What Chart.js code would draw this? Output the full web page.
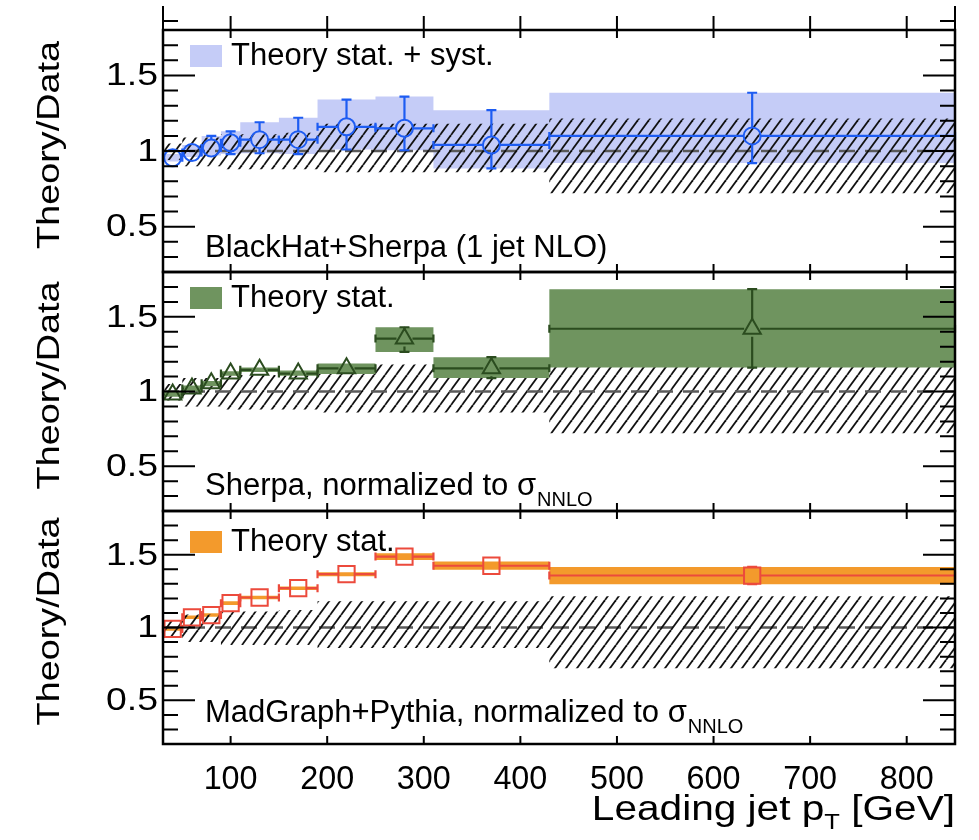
<!DOCTYPE html>
<html>
<head>
<meta charset="utf-8">
<script src="https://cdn.jsdelivr.net/npm/chart.js@4.4.1/dist/chart.umd.min.js"></script>
<style>
  body { margin: 0; background: #fff; }
  #wrap { position: relative; width: 979px; height: 840px; }
  #wrap canvas { position: absolute; left: 0; top: 0; }
</style>
</head>
<body>
<div id="wrap">
  <canvas id="p1" width="979" height="840"></canvas>
  <canvas id="p2" width="979" height="840"></canvas>
  <canvas id="p3" width="979" height="840"></canvas>
</div>
<script>
// leading jet pT bins [GeV]
const binEdges = [30, 50, 70, 90, 110, 150, 190, 250, 310, 430, 850];
const binCenters = [40, 60, 80, 100, 130, 170, 220, 280, 370, 640];
const xTickLabels = [100, 200, 300, 400, 500, 600, 700, 800];
const yTickLabels = [0.5, 1, 1.5];

// data uncertainty (hatched band)
const dataLow  = [0.94, 0.90, 0.90, 0.88, 0.88, 0.88, 0.86, 0.86, 0.86, 0.72];
const dataHigh = [1.05, 1.09, 1.09, 1.11, 1.11, 1.12, 1.18, 1.18, 1.18, 1.215];

// BlackHat+Sherpa
const bhsValue = [0.955, 0.99, 1.02, 1.055, 1.075, 1.075, 1.16, 1.15, 1.04, 1.10];
const bhsLow   = [0.93, 0.96, 0.97, 0.98, 0.985, 0.98, 1.01, 1.005, 0.885, 0.92];
const bhsHigh  = [0.98, 1.04, 1.10, 1.13, 1.19, 1.22, 1.34, 1.36, 1.27, 1.385];

// Sherpa
const sherpaValue = [0.98, 1.02, 1.055, 1.12, 1.145, 1.12, 1.155, 1.354, 1.155, 1.42];
const sherpaLow   = [0.965, 1.0, 1.035, 1.105, 1.13, 1.105, 1.117, 1.265, 1.09, 1.16];
const sherpaHigh  = [1.0, 1.04, 1.07, 1.135, 1.16, 1.14, 1.188, 1.43, 1.23, 1.685];

// MadGraph+Pythia
const mgValue = [0.99, 1.07, 1.085, 1.167, 1.206, 1.27, 1.366, 1.487, 1.424, 1.357];
const mgLow   = [0.978, 1.058, 1.073, 1.155, 1.194, 1.258, 1.352, 1.464, 1.396, 1.297];
const mgHigh  = [1.002, 1.082, 1.097, 1.18, 1.218, 1.282, 1.38, 1.51, 1.453, 1.416];

const FONT = '"Liberation Sans", Arial, sans-serif';
const NONE = 'rgba(0,0,0,0)';

const steps = (vals) => binEdges.map((x, i) => ({ x, y: vals[Math.min(i, vals.length - 1)] }));

function band(lo, hi, color, order) {
  return [
    { data: steps(lo), stepped: true, fill: false, borderColor: NONE, pointRadius: 0, order: order + 1 },
    { data: steps(hi), stepped: true, fill: '-1', backgroundColor: color, borderColor: NONE, pointRadius: 0, order },
  ];
}

function unityLine(order) {
  return {
    data: [{ x: binEdges[0], y: 1 }, { x: binEdges[binEdges.length - 1], y: 1 }],
    borderColor: '#5a5a5a', borderWidth: 2.5, borderDash: [16, 10], pointRadius: 0, fill: false, order,
  };
}

function hatch(ctx) {
  const w = 11, h = 15;
  const c = document.createElement('canvas');
  c.width = w; c.height = h;
  const g = c.getContext('2d');
  g.strokeStyle = '#111';
  g.lineWidth = 1.8;
  [-w, 0, w].forEach((off) => {
    g.beginPath();
    g.moveTo(off, h);
    g.lineTo(off + w, 0);
    g.stroke();
  });
  return ctx.createPattern(c, 'repeat');
}

function markers(values, lo, hi, style, radius, gap, color, order) {
  return {
    data: binCenters.map((x, i) => ({ x, y: values[i] })),
    showLine: false, fill: false,
    pointStyle: style, pointRadius: radius, pointHoverRadius: radius,
    pointBorderWidth: 2, pointBorderColor: color, pointBackgroundColor: NONE,
    errLow: lo, errHigh: hi, barColor: color, barGap: gap, order,
  };
}

const errorBars = {
  id: 'errorBars',
  beforeDatasetDraw(chart, args) {
    const ds = chart.data.datasets[args.index];
    if (!ds.errLow) return;
    const { x, y } = chart.scales;
    const ctx = chart.ctx;
    const gap = ds.barGap, cap = 5;
    ctx.save();
    ctx.strokeStyle = ds.barColor;
    ctx.lineWidth = 2.2;
    ds.data.forEach((p, i) => {
      const px = x.getPixelForValue(p.x), py = y.getPixelForValue(p.y);
      const x0 = x.getPixelForValue(binEdges[i]), x1 = x.getPixelForValue(binEdges[i + 1]);
      const y0 = y.getPixelForValue(ds.errLow[i]), y1 = y.getPixelForValue(ds.errHigh[i]);
      ctx.beginPath();
      if (px - gap > x0) { ctx.moveTo(x0, py); ctx.lineTo(px - gap, py); ctx.moveTo(x0, py - 4); ctx.lineTo(x0, py + 4); }
      if (x1 > px + gap) { ctx.moveTo(px + gap, py); ctx.lineTo(x1, py); ctx.moveTo(x1, py - 4); ctx.lineTo(x1, py + 4); }
      if (y0 > py + gap) { ctx.moveTo(px, py + gap); ctx.lineTo(px, y0); ctx.moveTo(px - cap, y0); ctx.lineTo(px + cap, y0); }
      if (y1 < py - gap) { ctx.moveTo(px, py - gap); ctx.lineTo(px, y1); ctx.moveTo(px - cap, y1); ctx.lineTo(px + cap, y1); }
      ctx.stroke();
    });
    ctx.restore();
  },
};

function stretchText(ctx, text, x, y, sx, align) {
  ctx.save();
  ctx.translate(x, y);
  ctx.scale(sx, 1);
  ctx.textAlign = align || 'left';
  ctx.fillText(text, 0, 0);
  ctx.restore();
}

function makePanel(id, padding, datasets, opts) {
  const frame = {
    id: 'frame',
    afterDraw(chart) {
      const ctx = chart.ctx;
      const a = chart.chartArea;
      const { x, y } = chart.scales;
      ctx.save();
      ctx.strokeStyle = '#000';
      ctx.fillStyle = '#000';

      // ticks
      ctx.lineWidth = 2;
      ctx.beginPath();
      xTickLabels.forEach((v) => {
        const px = x.getPixelForValue(v);
        ctx.moveTo(px, a.top); ctx.lineTo(px, a.top + 8);
        ctx.moveTo(px, a.bottom); ctx.lineTo(px, a.bottom - 8);
        if (opts.stub) { ctx.moveTo(px, a.top); ctx.lineTo(px, a.top - 14); }
      });
      for (let k = 2; k <= 18; k++) {
        const v = k / 10;
        const py = y.getPixelForValue(v);
        const len = yTickLabels.includes(v) ? 32 : 15;
        ctx.moveTo(a.left, py); ctx.lineTo(a.left + len, py);
        ctx.moveTo(a.right, py); ctx.lineTo(a.right - len, py);
      }
      if (opts.stub) {
        ctx.moveTo(a.left, 6); ctx.lineTo(a.left, a.top);
        ctx.moveTo(a.right, 6); ctx.lineTo(a.right, a.top);
        ctx.moveTo(a.left, a.top - 9); ctx.lineTo(a.left + 15, a.top - 9);
        ctx.moveTo(a.right, a.top - 9); ctx.lineTo(a.right - 15, a.top - 9);
      }
      ctx.stroke();

      // frame
      ctx.lineWidth = 2.5;
      ctx.strokeRect(a.left, a.top, a.right - a.left, a.bottom - a.top);

      // y tick labels and title
      ctx.font = '32px ' + FONT;
      ctx.textBaseline = 'middle';
      yTickLabels.forEach((v) => stretchText(ctx, String(v), a.left - 5, y.getPixelForValue(v) + 1, 1.17, 'right'));
      ctx.textBaseline = 'alphabetic';
      ctx.save();
      ctx.translate(59, (a.top + a.bottom) / 2 - 6);
      ctx.rotate(-Math.PI / 2);
      ctx.scale(1.18, 1);
      ctx.textAlign = 'center';
      ctx.fillText('Theory/Data', 0, 0);
      ctx.restore();

      // legend
      ctx.fillStyle = opts.legendColor;
      ctx.fillRect(a.left + 27, a.top + opts.legendTop, 32, 22);
      ctx.fillStyle = '#000';
      ctx.font = '31px ' + FONT;
      ctx.fillText(opts.legendText, a.left + 68, a.top + opts.legendTop + 20);

      // model label
      ctx.fillText(opts.label, a.left + 42, a.bottom - opts.labelBottom);
      if (opts.sigma) {
        const w = ctx.measureText(opts.label).width;
        ctx.fillText('\u03c3', a.left + 42 + w, a.bottom - opts.labelBottom);
        const ws = ctx.measureText('\u03c3').width;
        ctx.font = '20px ' + FONT;
        ctx.fillText('NNLO', a.left + 42 + w + ws + 1, a.bottom - opts.labelBottom + 11);
      }

      // x axis labels on the last panel
      if (opts.xLabels) {
        ctx.font = '33px ' + FONT;
        xTickLabels.forEach((v) => stretchText(ctx, String(v), x.getPixelForValue(v), a.bottom + 45, 0.98, 'center'));
        ctx.font = '35px ' + FONT;
        const sx = 1.16;
        const tail = ' [GeV]';
        const head = 'Leading jet p';
        const wTail = ctx.measureText(tail).width * sx;
        ctx.font = '22px ' + FONT;
        const wSub = ctx.measureText('T').width * sx;
        ctx.font = '35px ' + FONT;
        const wHead = ctx.measureText(head).width * sx;
        const base = a.bottom + 76;
        const start = a.right - wTail - wSub - wHead;
        stretchText(ctx, head, start, base, sx);
        stretchText(ctx, tail, start + wHead + wSub, base, sx);
        ctx.font = '22px ' + FONT;
        stretchText(ctx, 'T', start + wHead, base + 9, sx);
      }
      ctx.restore();
    },
  };

  return new Chart(document.getElementById(id), {
    type: 'line',
    data: { datasets },
    options: {
      responsive: false,
      animation: false,
      events: [],
      layout: { padding },
      plugins: { legend: { display: false }, tooltip: { enabled: false } },
      scales: {
        x: { type: 'linear', min: 30, max: 850, display: false },
        y: { type: 'linear', min: 0.2, max: 1.8, display: false },
      },
    },
    plugins: [errorBars, frame],
  });
}

const ctx1 = document.getElementById('p1').getContext('2d');
const ctx2 = document.getElementById('p2').getContext('2d');
const ctx3 = document.getElementById('p3').getContext('2d');

makePanel('p1', { left: 163, right: 24, top: 30, bottom: 568 }, [
  ...band(bhsLow, bhsHigh, '#c5ccf7', 5),
  unityLine(4),
  ...band(dataLow, dataHigh, hatch(ctx1), 2),
  markers(bhsValue, bhsLow, bhsHigh, 'circle', 8.5, 8.5, '#1d5cf2', 1),
], { stub: true, legendColor: '#c5ccf7', legendTop: 15, legendText: 'Theory stat. + syst.',
     label: 'BlackHat+Sherpa (1 jet NLO)', labelBottom: 15 });

makePanel('p2', { left: 163, right: 24, top: 272, bottom: 329 }, [
  ...band(dataLow, dataHigh, hatch(ctx2), 5),
  unityLine(4),
  ...band(sherpaLow, sherpaHigh, '#6f945f', 2),
  markers(sherpaValue, sherpaLow, sherpaHigh, 'triangle', 10, 8, '#2b4c1f', 1),
], { legendColor: '#6f945f', legendTop: 15, legendText: 'Theory stat.',
     label: 'Sherpa, normalized to ', sigma: true, labelBottom: 16 });

makePanel('p3', { left: 163, right: 24, top: 511, bottom: 96 }, [
  ...band(mgLow, mgHigh, '#f39a2c', 5),
  unityLine(4),
  ...band(dataLow, dataHigh, hatch(ctx3), 2),
  markers(mgValue, mgLow, mgHigh, 'rect', 11.5, 8, '#ec4a3c', 1),
], { legendColor: '#f39a2c', legendTop: 20, legendText: 'Theory stat.',
     label: 'MadGraph+Pythia, normalized to ', sigma: true, labelBottom: 22, xLabels: true });
</script>
</body>
</html>
